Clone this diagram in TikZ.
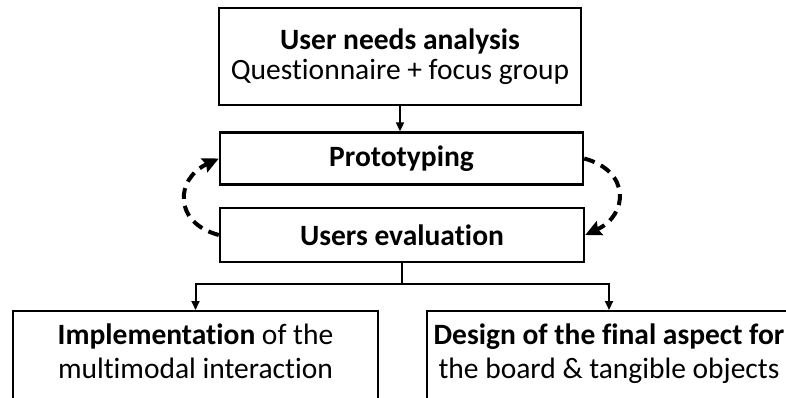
\documentclass[tikz,border=0pt]{standalone}
\usepackage{fontspec}
\setmainfont{Carlito}[Ligatures=NoCommon]
\usetikzlibrary{positioning, arrows.meta}

\begin{document}
\begin{tikzpicture}[
  x=1pt, y=-1pt,
  stage/.style={draw=black, line width=2.4pt, align=center, inner sep=0pt},
  txt/.style={align=center, inner sep=0pt},
  flow/.style={line width=2pt, -{Triangle[length=9pt, width=8pt]}},
  loop/.style={line width=4pt, dash pattern=on 11pt off 7pt,
    -{Stealth[length=16pt, width=15pt, inset=2pt]}},
  font=\fontsize{29.5}{30}\selectfont
]

\useasboundingbox (0,0) rectangle (786,397);
\clip (0,0) rectangle (786,397);
\fill[white] (0,0) rectangle (786,397);

% upper stages
\node[stage, minimum width=362pt, minimum height=97pt] (needs) at (400,56.5)
  {\textbf{User needs analysis}\\Questionnaire + focus group};
\node[stage, minimum width=363pt, minimum height=52pt] (proto) at (401.5,158.5)
  {\textbf{Prototyping}};
\node[stage, minimum width=364pt, minimum height=54pt] (eval) at (402,235)
  {\textbf{Users evaluation}};

% lower stages (cut by the page edge)
\node[stage, minimum width=365pt, minimum height=130pt, anchor=north] (impl) at (195.5,310) {};
\node[txt, font=\fontsize{29.5}{34}\selectfont, below=14pt of impl.north] (impltxt)
  {\textbf{Implementation} of the\\multimodal interaction};
\node[stage, minimum width=364pt, minimum height=130pt, anchor=north] (design) at (609,310) {};
\node[txt, font=\fontsize{29.5}{34}\selectfont, below=14pt of design.north] (designtxt)
  {\textbf{Design of the final aspect for}\\the board \& tangible objects};

\coordinate (split) at (402,284);

\draw[flow] (needs.south) -- (needs.south |- proto.north);
\draw[line width=2pt] (eval.south) -- (split);
\draw[flow] (split) -| (impl.north);
\draw[flow] (split) -| (design.north);

% iteration loop
\draw[loop] (eval.west) to[out=165, in=205, looseness=1.6] (proto.west);
\draw[loop] (proto.east) to[out=-15, in=25, looseness=1.6] (eval.east);

\end{tikzpicture}
\end{document}
